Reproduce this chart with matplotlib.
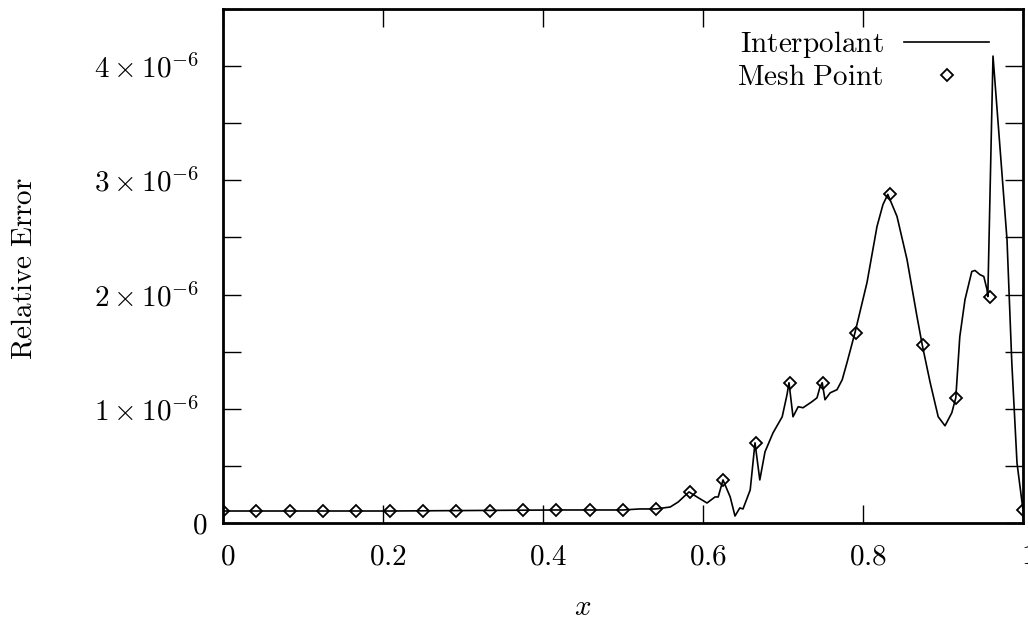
import numpy as np
import matplotlib
matplotlib.use("Agg")
import matplotlib.pyplot as plt
from matplotlib.transforms import ScaledTranslation

plt.rcParams['mathtext.fontset'] = 'cm'
plt.rcParams['font.family'] = 'serif'
plt.rcParams['font.serif'] = ['DejaVu Serif']

# mesh points: x = i/24, relative error in units of 1e-6
mesh_x = np.arange(25) / 24.0
mesh_err = [0.105, 0.105, 0.105, 0.105, 0.105, 0.105, 0.105, 0.105, 0.105,
            0.11, 0.114, 0.114, 0.114, 0.123, 0.272, 0.377, 0.702, 1.228,
            1.228, 1.667, 2.877, 1.561, 1.096, 1.982, 0.114]

# interpolant curve (x, error in 1e-6)
curve_x = [0.0, 0.209, 0.4175, 0.5, 0.521, 0.541, 0.559, 0.569, 0.5825,
           0.5925, 0.605, 0.615, 0.619, 0.625, 0.634, 0.64, 0.646, 0.65,
           0.659, 0.665, 0.671, 0.6775, 0.6875, 0.699, 0.705, 0.7075,
           0.7125, 0.719, 0.725, 0.736, 0.7425, 0.746, 0.749, 0.7525,
           0.759, 0.7675, 0.774, 0.78, 0.79, 0.805, 0.8175, 0.825, 0.831,
           0.8425, 0.855, 0.8675, 0.874, 0.884, 0.894, 0.9025, 0.911,
           0.916, 0.921, 0.9275, 0.936, 0.94, 0.946, 0.951, 0.955, 0.956,
           0.9625, 0.98, 0.986, 0.9925, 1.0]
curve_err = [0.105, 0.105, 0.114, 0.114, 0.123, 0.123, 0.140, 0.184, 0.272,
             0.228, 0.175, 0.228, 0.228, 0.377, 0.228, 0.061, 0.132, 0.123,
             0.289, 0.702, 0.377, 0.623, 0.789, 0.930, 1.123, 1.228,
             0.930, 1.018, 1.009, 1.061, 1.096, 1.184, 1.228, 1.079,
             1.140, 1.167, 1.254, 1.404, 1.667, 2.105, 2.596, 2.789, 2.877,
             2.684, 2.307, 1.807, 1.561, 1.228, 0.930, 0.851, 0.965,
             1.096, 1.632, 1.956, 2.202, 2.211, 2.175, 2.158, 2.044, 1.982,
             4.088, 2.482, 1.404, 0.526, 0.114]

xticks = [0, 0.2, 0.4, 0.6, 0.8, 1]
xlabels = ['$0$', '$0.2$', '$0.4$', '$0.6$', '$0.8$', '$1$']
yticks = np.arange(0, 4.51, 0.5)
ylabels = ['$0$', '', r'$1\times10^{-6}$', '', r'$2\times10^{-6}$', '',
           r'$3\times10^{-6}$', '', r'$4\times10^{-6}$', '']

fs = 21

fig = plt.figure(figsize=(10.28, 6.21), dpi=100)
ax = fig.add_axes([223 / 1028, 1 - 523 / 621, 800 / 1028, 514 / 621])

ax.plot(curve_x, np.array(curve_err) * 1e-6, '-', color='black', lw=1.2,
        label=r'$\mathrm{Interpolant}$')
ax.plot(mesh_x, np.array(mesh_err) * 1e-6, 'D', mfc='none', mec='black',
        mew=1.3, ms=6.5, label=r'$\mathrm{Mesh\ Point}$')

ax.set_xlim(0, 1)
ax.set_ylim(0, 4.5e-6)
ax.set_xticks(xticks, xlabels)
ax.set_yticks(yticks * 1e-6, ylabels)
ax.tick_params(direction='in', length=13, width=1, labelsize=fs,
               top=True, right=True)
ax.tick_params(axis='x', pad=14)
ax.tick_params(axis='y', pad=17.5)
for s in ax.spines.values():
    s.set_linewidth(2)

# small label nudges like the original LaTeX output
shift_x = ScaledTranslation(5 / 100, 0, fig.dpi_scale_trans)
for lab in ax.get_xticklabels():
    lab.set_transform(lab.get_transform() + shift_x)
zero_lab = ax.get_yticklabels()[0]
zero_lab.set_transform(zero_lab.get_transform()
                       + ScaledTranslation(9 / 100, 0, fig.dpi_scale_trans))

fig.text(24 / 1028, 1 - 268 / 621, r'$\mathrm{Relative\ Error}$',
         rotation=90, ha='center', va='center', fontsize=fs)
fig.text(583 / 1028, 1 - 607 / 621, '$x$', ha='center', va='center',
         fontsize=fs)

ax.legend(loc='upper right', bbox_to_anchor=(0.9575, 0.961),
          markerfirst=False, frameon=False, fontsize=fs, numpoints=1,
          handlelength=2.9, handletextpad=0.72, borderpad=0,
          borderaxespad=0, labelspacing=0.1)

fig.savefig('out.png', dpi=100)
